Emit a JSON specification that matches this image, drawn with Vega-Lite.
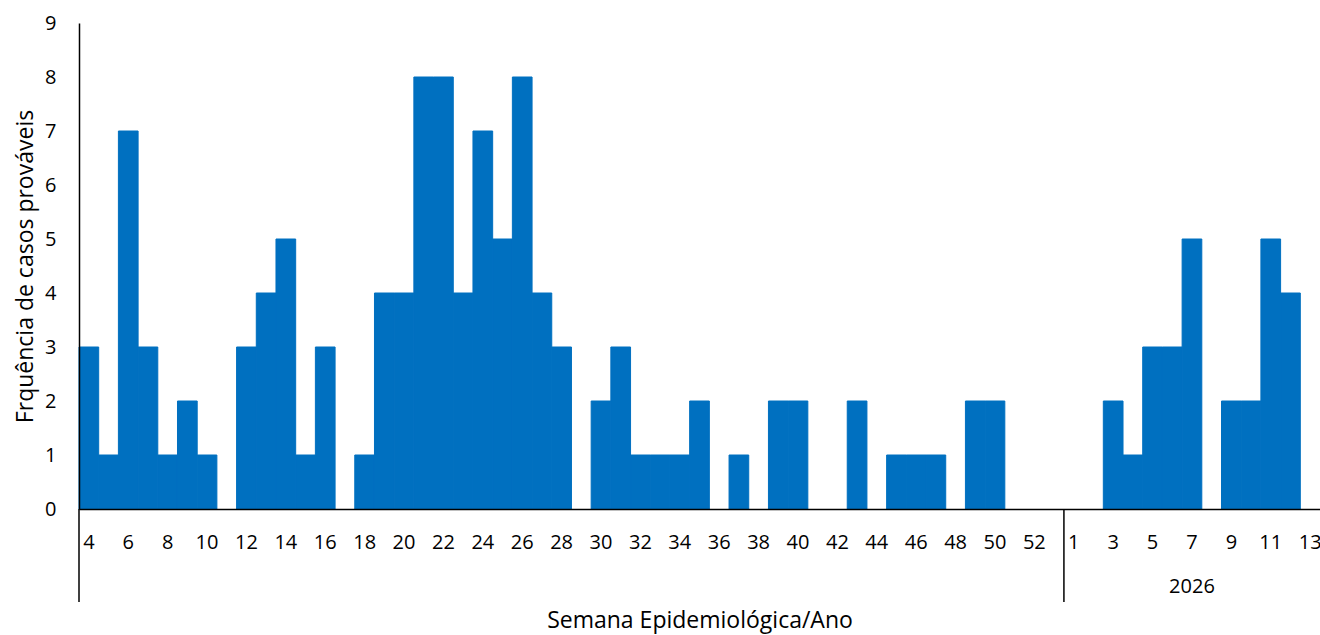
{
  "$schema": "https://vega.github.io/schema/vega-lite/v6.json",
  "autosize": {"type": "none"},
  "padding": {"left": 79, "top": 23, "right": 0, "bottom": 126},
  "width": 1241,
  "height": 486,
  "background": "white",
  "config": {
    "view": {"stroke": null},
    "font": "Open Sans",
    "axis": {"labelFont": "Open Sans", "titleFont": "Open Sans", "labelColor": "#000000", "titleColor": "#000000", "titleFontWeight": "normal"}
  },
  "datasets": {
    "casos": [
      {"chave": "2025-04", "ano": "2025", "semana": 4, "casos": 3},
      {"chave": "2025-05", "ano": "2025", "semana": 5, "casos": 1},
      {"chave": "2025-06", "ano": "2025", "semana": 6, "casos": 7},
      {"chave": "2025-07", "ano": "2025", "semana": 7, "casos": 3},
      {"chave": "2025-08", "ano": "2025", "semana": 8, "casos": 1},
      {"chave": "2025-09", "ano": "2025", "semana": 9, "casos": 2},
      {"chave": "2025-10", "ano": "2025", "semana": 10, "casos": 1},
      {"chave": "2025-11", "ano": "2025", "semana": 11, "casos": 0},
      {"chave": "2025-12", "ano": "2025", "semana": 12, "casos": 3},
      {"chave": "2025-13", "ano": "2025", "semana": 13, "casos": 4},
      {"chave": "2025-14", "ano": "2025", "semana": 14, "casos": 5},
      {"chave": "2025-15", "ano": "2025", "semana": 15, "casos": 1},
      {"chave": "2025-16", "ano": "2025", "semana": 16, "casos": 3},
      {"chave": "2025-17", "ano": "2025", "semana": 17, "casos": 0},
      {"chave": "2025-18", "ano": "2025", "semana": 18, "casos": 1},
      {"chave": "2025-19", "ano": "2025", "semana": 19, "casos": 4},
      {"chave": "2025-20", "ano": "2025", "semana": 20, "casos": 4},
      {"chave": "2025-21", "ano": "2025", "semana": 21, "casos": 8},
      {"chave": "2025-22", "ano": "2025", "semana": 22, "casos": 8},
      {"chave": "2025-23", "ano": "2025", "semana": 23, "casos": 4},
      {"chave": "2025-24", "ano": "2025", "semana": 24, "casos": 7},
      {"chave": "2025-25", "ano": "2025", "semana": 25, "casos": 5},
      {"chave": "2025-26", "ano": "2025", "semana": 26, "casos": 8},
      {"chave": "2025-27", "ano": "2025", "semana": 27, "casos": 4},
      {"chave": "2025-28", "ano": "2025", "semana": 28, "casos": 3},
      {"chave": "2025-29", "ano": "2025", "semana": 29, "casos": 0},
      {"chave": "2025-30", "ano": "2025", "semana": 30, "casos": 2},
      {"chave": "2025-31", "ano": "2025", "semana": 31, "casos": 3},
      {"chave": "2025-32", "ano": "2025", "semana": 32, "casos": 1},
      {"chave": "2025-33", "ano": "2025", "semana": 33, "casos": 1},
      {"chave": "2025-34", "ano": "2025", "semana": 34, "casos": 1},
      {"chave": "2025-35", "ano": "2025", "semana": 35, "casos": 2},
      {"chave": "2025-36", "ano": "2025", "semana": 36, "casos": 0},
      {"chave": "2025-37", "ano": "2025", "semana": 37, "casos": 1},
      {"chave": "2025-38", "ano": "2025", "semana": 38, "casos": 0},
      {"chave": "2025-39", "ano": "2025", "semana": 39, "casos": 2},
      {"chave": "2025-40", "ano": "2025", "semana": 40, "casos": 2},
      {"chave": "2025-41", "ano": "2025", "semana": 41, "casos": 0},
      {"chave": "2025-42", "ano": "2025", "semana": 42, "casos": 0},
      {"chave": "2025-43", "ano": "2025", "semana": 43, "casos": 2},
      {"chave": "2025-44", "ano": "2025", "semana": 44, "casos": 0},
      {"chave": "2025-45", "ano": "2025", "semana": 45, "casos": 1},
      {"chave": "2025-46", "ano": "2025", "semana": 46, "casos": 1},
      {"chave": "2025-47", "ano": "2025", "semana": 47, "casos": 1},
      {"chave": "2025-48", "ano": "2025", "semana": 48, "casos": 0},
      {"chave": "2025-49", "ano": "2025", "semana": 49, "casos": 2},
      {"chave": "2025-50", "ano": "2025", "semana": 50, "casos": 2},
      {"chave": "2025-51", "ano": "2025", "semana": 51, "casos": 0},
      {"chave": "2025-52", "ano": "2025", "semana": 52, "casos": 0},
      {"chave": "2025-53", "ano": "2025", "semana": 53, "casos": 0},
      {"chave": "2026-01", "ano": "2026", "semana": 1, "casos": 0},
      {"chave": "2026-02", "ano": "2026", "semana": 2, "casos": 0},
      {"chave": "2026-03", "ano": "2026", "semana": 3, "casos": 2},
      {"chave": "2026-04", "ano": "2026", "semana": 4, "casos": 1},
      {"chave": "2026-05", "ano": "2026", "semana": 5, "casos": 3},
      {"chave": "2026-06", "ano": "2026", "semana": 6, "casos": 3},
      {"chave": "2026-07", "ano": "2026", "semana": 7, "casos": 5},
      {"chave": "2026-08", "ano": "2026", "semana": 8, "casos": 0},
      {"chave": "2026-09", "ano": "2026", "semana": 9, "casos": 2},
      {"chave": "2026-10", "ano": "2026", "semana": 10, "casos": 2},
      {"chave": "2026-11", "ano": "2026", "semana": 11, "casos": 5},
      {"chave": "2026-12", "ano": "2026", "semana": 12, "casos": 4},
      {"chave": "2026-13", "ano": "2026", "semana": 13, "casos": 0}
    ],
    "grupos": [
      {"ano": "2025", "inicio": "2025-04", "meio": "2025-29", "rotulo": ""},
      {"ano": "2026", "inicio": "2026-01", "meio": "2026-07", "rotulo": "2026"}
    ]
  },
  "layer": [
    {
      "data": {"name": "casos"},
      "mark": {"type": "bar", "color": "#0070C0", "stroke": "#0070C0", "strokeWidth": 1},
      "encoding": {
        "x": {
          "field": "chave",
          "type": "ordinal",
          "sort": "ascending",
          "scale": {"paddingInner": 0, "paddingOuter": 0},
          "axis": {
            "title": "Semana Epidemiológica/Ano",
            "titleFontSize": 23,
            "titleY": 111,
            "titleBaseline": "middle",
            "labelAngle": 0,
            "labelFontSize": 20,
            "labelBaseline": "middle",
            "labelPadding": 33,
            "labelOverlap": false,
            "labelExpr": "(slice(datum.value,0,4)=='2025') == (toNumber(slice(datum.value,5))%2==0) ? toString(toNumber(slice(datum.value,5))) : ''",
            "ticks": false,
            "domainColor": "#000000",
            "domainWidth": 1.5,
            "grid": false,
            "zindex": 1
          }
        },
        "y": {
          "field": "casos",
          "type": "quantitative",
          "scale": {"domain": [0, 9], "nice": false},
          "axis": {
            "title": "Frquência de casos prováveis",
            "titleFontSize": 23,
            "titleX": -54,
            "titleY": 243,
            "titleAngle": -90,
            "titleAlign": "center",
            "titleBaseline": "middle",
            "values": [0, 1, 2, 3, 4, 5, 6, 7, 8, 9],
            "format": "d",
            "labelFontSize": 20,
            "labelPadding": 23,
            "ticks": false,
            "grid": false,
            "domainColor": "#000000",
            "domainWidth": 1.5,
            "zindex": 1
          }
        },
        "strokeOpacity": {"condition": {"test": "datum.casos == 0", "value": 0}, "value": 1}
      }
    },
    {
      "data": {"name": "grupos"},
      "mark": {"type": "rule", "color": "#000000", "strokeWidth": 1.5},
      "encoding": {
        "x": {"field": "inicio", "type": "ordinal", "bandPosition": 0},
        "y": {"datum": 0},
        "y2": {"datum": -1.72}
      }
    },
    {
      "data": {"name": "grupos"},
      "mark": {"type": "text", "fontSize": 20, "color": "#000000", "baseline": "middle", "align": "center"},
      "encoding": {
        "x": {"field": "meio", "type": "ordinal"},
        "y": {"datum": -1.45},
        "text": {"field": "rotulo"}
      }
    }
  ]
}
